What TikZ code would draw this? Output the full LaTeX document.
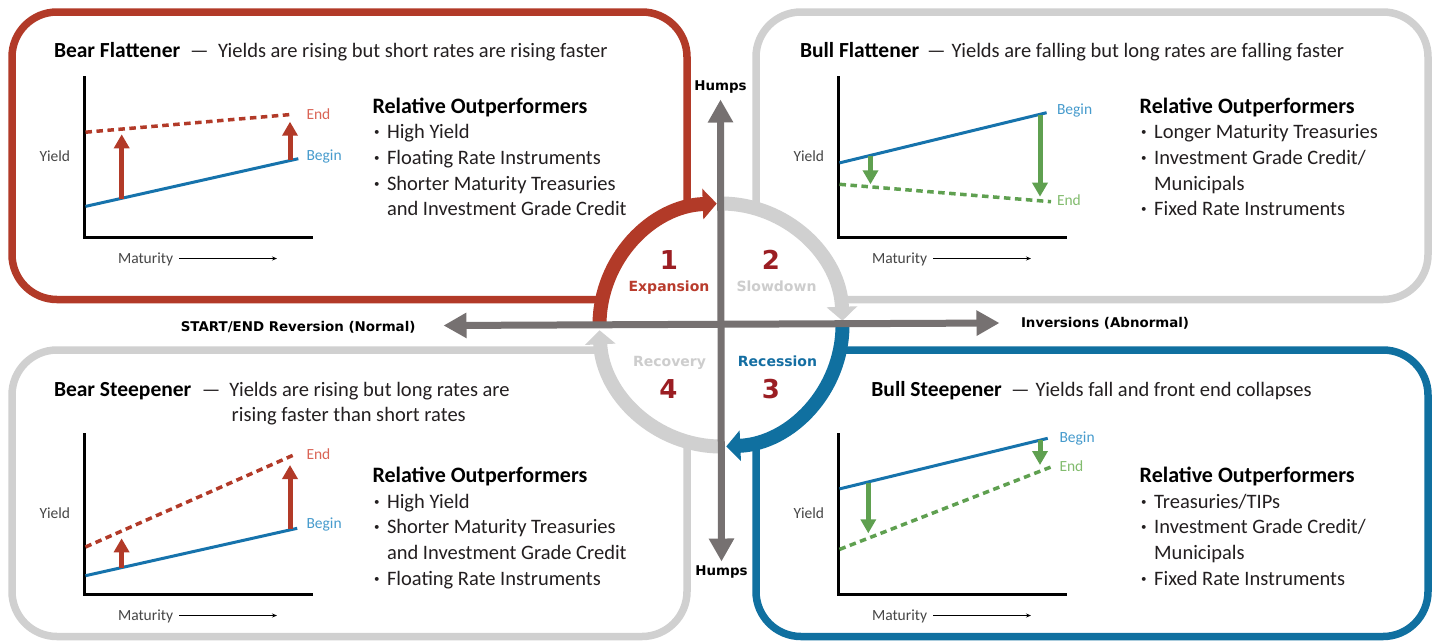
\documentclass[tikz,border=0pt]{standalone}
\usepackage{fontspec}
\setmainfont{Carlito}
\newfontfamily\phasefont{DejaVu Sans}
\usetikzlibrary{arrows.meta}

\definecolor{bearred}{RGB}{178,58,40}
\definecolor{ringgrey}{RGB}{208,208,208}
\definecolor{bullblue}{RGB}{16,112,160}
\definecolor{numred}{RGB}{155,30,35}
\definecolor{axisgrey}{RGB}{118,113,113}
\definecolor{curveblue}{RGB}{22,115,172}
\definecolor{beginblue}{RGB}{70,155,205}
\definecolor{endred}{RGB}{218,100,85}
\definecolor{shiftgreen}{RGB}{95,160,80}
\definecolor{endgreen}{RGB}{130,188,110}
\definecolor{inktext}{RGB}{35,31,32}
\definecolor{softtext}{RGB}{70,70,70}
\definecolor{phasegrey}{RGB}{205,205,205}
\definecolor{phaseblue}{RGB}{20,110,162}
\definecolor{phasered}{RGB}{185,60,45}

\newcommand{\listbullet}{\makebox[14.5pt][l]{\hspace*{1.5pt}\raisebox{3pt}{\fontsize{11}{11}\selectfont •}}}
\newcommand{\listindent}{\hspace*{14.5pt}}

\tikzset{
  every node/.style={inner sep=0pt, outer sep=0pt},
  frameline/.style={line width=7.5pt, rounded corners=45pt},
  phasering/.style={line width=14pt},
  ringtip/.style={-{Triangle[width=30pt,length=14pt]}},
  axisline/.style={line width=7pt, draw=axisgrey,
    {Triangle[width=24pt,length=23pt]}-{Triangle[width=24pt,length=23pt]}},
  axislabel/.style={font=\phasefont\bfseries\fontsize{13.4}{15}\selectfont, text=black},
  phaselabel/.style={font=\phasefont\bfseries\fontsize{14}{16}\selectfont, anchor=base},
  phasenum/.style={font=\phasefont\bfseries\fontsize{26}{28}\selectfont, text=numred, anchor=base},
  titlename/.style={font=\bfseries\fontsize{21.5}{25}\selectfont, text=black, anchor=base west},
  titledesc/.style={font=\fontsize{20.5}{25}\selectfont, text=inktext, anchor=base west},
  listhead/.style={font=\bfseries\fontsize{22}{25}\selectfont, text=black, anchor=base west},
  listitem/.style={font=\fontsize{20.5}{25}\selectfont, text=inktext, anchor=base west},
  chartlabel/.style={font=\fontsize{15.5}{18}\selectfont, text=softtext},
  beginlabel/.style={font=\fontsize{15.5}{18}\selectfont, text=beginblue, anchor=base west},
  endlabel/.style={font=\fontsize{15.5}{18}\selectfont, anchor=base west},
  beginline/.style={line width=3pt, draw=curveblue},
  endline/.style={line width=3.5pt, dash pattern=on 6.5pt off 4.5pt},
  risearrow/.style={line width=5pt, draw=bearred, -{Triangle[width=15pt,length=14pt]}},
  fallarrow/.style={line width=5pt, draw=shiftgreen, -{Triangle[width=15pt,length=14pt]}},
  chartframe/.pic={
    \draw[line width=3pt, black] (0,-161) -- (0,0) -- (229,0);
    \node[chartlabel, anchor=base east] (-yield) at (-14,-76) {Yield};
    \node[chartlabel, anchor=base west] (-maturity) at (34,26.3) {Maturity};
    \coordinate (-arrowstart) at (95,21.5);
    \coordinate (-arrowend) at (193,21.5);
    \draw[line width=1pt, black, -{Stealth[length=5pt,width=4pt]}] (-arrowstart) -- (-arrowend);
  }
}

\begin{document}
\begin{tikzpicture}[x=1pt,y=-1pt]
\path[fill=white, use as bounding box] (0,0) rectangle (1440,641);

% quadrant frames, each ending on the phase ring
\draw[frameline, bearred] (687,208.4) -- (687,12) -- (12,12) -- (12,299.5) -- (602.2,299.5);
\draw[frameline, ringgrey] (756,208.7) -- (756,12) -- (1428,12) -- (1428,299.5) -- (839.8,299.5);
\draw[frameline, ringgrey] (602.1,350) -- (12,350) -- (12,636.5) -- (687,636.5) -- (687,441.6);
\draw[frameline, bullblue] (839.9,350) -- (1428,350) -- (1428,636.5) -- (756,636.5) -- (756,441.3);

% phase ring
\draw[phasering, bearred, ringtip] (599.5,325) arc[start angle=180, end angle=268, radius=121.5];
\draw[phasering, ringgrey, ringtip] (721,203.5) arc[start angle=270, end angle=358, radius=121.5];
\draw[phasering, bullblue, ringtip] (842.5,325) arc[start angle=0, end angle=87.5, radius=121.5];
\draw[phasering, ringgrey, ringtip] (721,446.5) arc[start angle=90, end angle=177.5, radius=121.5];

% curve-shape axes
\coordinate (humpsN) at (720.5,99.5);
\coordinate (humpsS) at (721.5,561.5);
\coordinate (normalW) at (443.5,325.5);
\coordinate (abnormalE) at (999.5,323);
\draw[axisline] (humpsN) -- (humpsS);
\draw[axisline] (normalW) -- (abnormalE);
\node[axislabel, anchor=base] (humpsTop) at (720.5,90) {Humps};
\node[axislabel, anchor=base] (humpsBottom) at (721.5,575) {Humps};
\node[axislabel, anchor=base east] (normalLabel) at (415.5,331) {START/END Reversion (Normal)};
\node[axislabel, anchor=base west] (abnormalLabel) at (1021,327.5) {Inversions (Abnormal)};

% phase names and numbers
\node[phasenum] (num1) at (669,269.3) {1};
\node[phaselabel, text=phasered] (phase1) at (669,291.7) {Expansion};
\node[phasenum] (num2) at (771,269.3) {2};
\node[phaselabel, text=phasegrey] (phase2) at (776.5,291.7) {Slowdown};
\node[phaselabel, text=phaseblue] (phase3) at (777.5,366.7) {Recession};
\node[phasenum] (num3) at (771,398.3) {3};
\node[phaselabel, text=phasegrey] (phase4) at (669.5,366.7) {Recovery};
\node[phasenum] (num4) at (668.5,398.3) {4};

% titles
\node[titlename] (tlname) at (54,57) {Bear Flattener};
\node[titledesc] (tldash) at (190,57) {—};
\node[titledesc] (tldesc) at (218,57) {Yields are rising but short rates are rising faster};
\node[titlename] (trname) at (800,57) {Bull Flattener};
\node[titledesc] (trdash) at (927,57) {—};
\node[titledesc] (trdesc) at (951.7,57) {Yields are falling but long rates are falling faster};
\node[titlename] (blname) at (54,396) {Bear Steepener};
\node[titledesc] (bldash) at (201.8,396) {—};
\node[titledesc] (bldesc) at (229.4,396) {Yields are rising but long rates are};
\node[titledesc] (bldesctwo) at (231.7,421.7) {rising faster than short rates};
\node[titlename] (brname) at (871.4,396) {Bull Steepener};
\node[titledesc] (brdash) at (1011,396) {—};
\node[titledesc] (brdesc) at (1035.6,396) {Yields fall and front end collapses};

% outperformer lists
\node[listhead] (tlhead) at (372.5,113.3) {Relative Outperformers};
\foreach \t [count=\i] in {{\listbullet High Yield},{\listbullet Floating Rate Instruments},{\listbullet Shorter Maturity Treasuries},{\listindent and Investment Grade Credit}}
  \node[listitem] (tlitem\i) at (372.5,{113.3+25.6*\i}) {\t};
\node[listhead] (trhead) at (1139.7,113.3) {Relative Outperformers};
\foreach \t [count=\i] in {{\listbullet Longer Maturity Treasuries},{\listbullet Investment Grade Credit/},{\listindent Municipals},{\listbullet Fixed Rate Instruments}}
  \node[listitem] (tritem\i) at (1139.7,{113.3+25.6*\i}) {\t};
\node[listhead] (blhead) at (372.5,482.7) {Relative Outperformers};
\foreach \t [count=\i] in {{\listbullet High Yield},{\listbullet Shorter Maturity Treasuries},{\listindent and Investment Grade Credit},{\listbullet Floating Rate Instruments}}
  \node[listitem] (blitem\i) at (372.5,{482.7+25.6*\i}) {\t};
\node[listhead] (brhead) at (1139.7,482.7) {Relative Outperformers};
\foreach \t [count=\i] in {{\listbullet Treasuries/TIPs},{\listbullet Investment Grade Credit/},{\listindent Municipals},{\listbullet Fixed Rate Instruments}}
  \node[listitem] (britem\i) at (1139.7,{482.7+25.6*\i}) {\t};

% yield-curve charts
\pic (tlchart) at (84,237) {chartframe};
\pic (trchart) at (838,237) {chartframe};
\pic (blchart) at (84,594) {chartframe};
\pic (brchart) at (838,594) {chartframe};

% bear flattener
\draw[beginline] (85.5,206.4) -- (298.3,158.7);
\draw[endline, draw=bearred] (85.5,132.2) -- (293.3,114.3);
\draw[risearrow] (121.7,199) -- (121.7,134.3);
\draw[risearrow] (290,160) -- (290,121.7);
\node[beginlabel] (tlbegin) at (306.5,160.5) {Begin};
\node[endlabel, text=endred] (tlend) at (306.5,119) {End};

% bull flattener
\draw[beginline] (839.5,162.9) -- (1046.6,112.7);
\draw[endline, draw=shiftgreen] (839.5,184.3) -- (1051,201.7);
\draw[fallarrow] (870.5,156) -- (870.5,184.3);
\draw[fallarrow] (1040,115) -- (1040,196.7);
\node[beginlabel] (trbegin) at (1057,114.5) {Begin};
\node[endlabel, text=endgreen] (trend) at (1057,205.5) {End};

% bear steepener
\draw[beginline] (85.5,575.7) -- (297.2,528.3);
\draw[endline, draw=bearred] (85.5,547) -- (293.6,455);
\draw[risearrow] (121.6,567.5) -- (121.6,538.3);
\draw[risearrow] (290,529) -- (290,465);
\node[beginlabel] (blbegin) at (306.5,528.8) {Begin};
\node[endlabel, text=endred] (blend) at (306.5,459.5) {End};

% bull steepener
\draw[beginline] (839.5,488.9) -- (1047.7,438.3);
\draw[endline, draw=shiftgreen] (839.5,549.4) -- (1051.7,466.7);
\draw[fallarrow] (868.3,483.3) -- (868.3,533.3);
\draw[fallarrow] (1040,440) -- (1040,465);
\node[beginlabel] (brbegin) at (1059.5,442.8) {Begin};
\node[endlabel, text=endgreen] (brend) at (1059.5,471.2) {End};
\end{tikzpicture}
\end{document}
